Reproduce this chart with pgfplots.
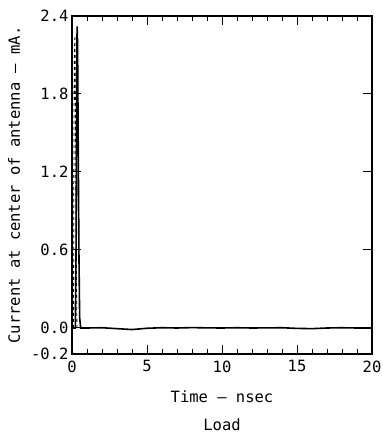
\documentclass[border=0pt]{standalone}
\usepackage{pgfplots}
\pgfplotsset{compat=1.18}
\usepackage{fontspec}
\setmainfont{DejaVu Sans Mono}
\begin{document}
\begin{tikzpicture}
\useasboundingbox (-72pt,-81pt) rectangle (310pt,354pt);
\begin{axis}[
  at={(0,0)}, anchor=south west,
  width=300pt, height=338pt, scale only axis,
  xmin=0, xmax=20, ymin=-0.2, ymax=2.4,
  xtick={0,5,10,15,20}, minor x tick num=4,
  ytick={-0.2,0,0.6,1.2,1.8,2.4}, minor y tick num=2,
  yticklabel style={/pgf/number format/.cd, fixed, fixed zerofill, precision=1},
  xticklabel style={yshift=-3pt},
  /pgf/number format/assume math mode=true,
  tick align=inside,
  major tick length=9pt, minor tick length=5pt,
  tick style={line width=1pt, black},
  axis line style={line width=1.4pt},
  ticklabel style={font=\fontsize{15.5}{17}\selectfont},
  label style={font=\fontsize{15.5}{17}\selectfont},
  xlabel={Time — nsec},
  xlabel style={at={(axis description cs:0.5,-0.127)}, anchor=center},
  ylabel={Current at center of antenna — mA.},
  ylabel style={at={(axis description cs:-0.193,0.5)}, anchor=center},
  clip=false,
]
\addplot[line width=1.6pt, black] coordinates {
 (0,0) (0.22,0.0) (0.27,0.6) (0.31,1.8) (0.34,2.32) (0.37,2.2) (0.41,1.5)
 (0.46,0.6) (0.51,0.08) (0.58,0.0) (1,0.0) (2,0.002) (3,-0.005) (4,-0.012)
 (5,-0.002) (6,0.002) (7,0.0) (8,0.003) (9,0.001) (10,0.0) (11,0.002)
 (12,0.0) (13,0.001) (14,0.002) (15,-0.003) (16,-0.005) (17,0.0) (18,0.002) (19,0.0) (20,0.0)
};
\addplot[line width=0.8pt, black, dashed] coordinates {
 (0.1,0) (0.12,1.0) (0.15,2.1) (0.2,2.25) (0.24,1.5) (0.28,0.6) (0.33,0.0)
};
\node[font=\fontsize{15.5}{17}\selectfont] at (axis description cs:0.5,-0.21) {Load};
\end{axis}
\end{tikzpicture}
\end{document}
